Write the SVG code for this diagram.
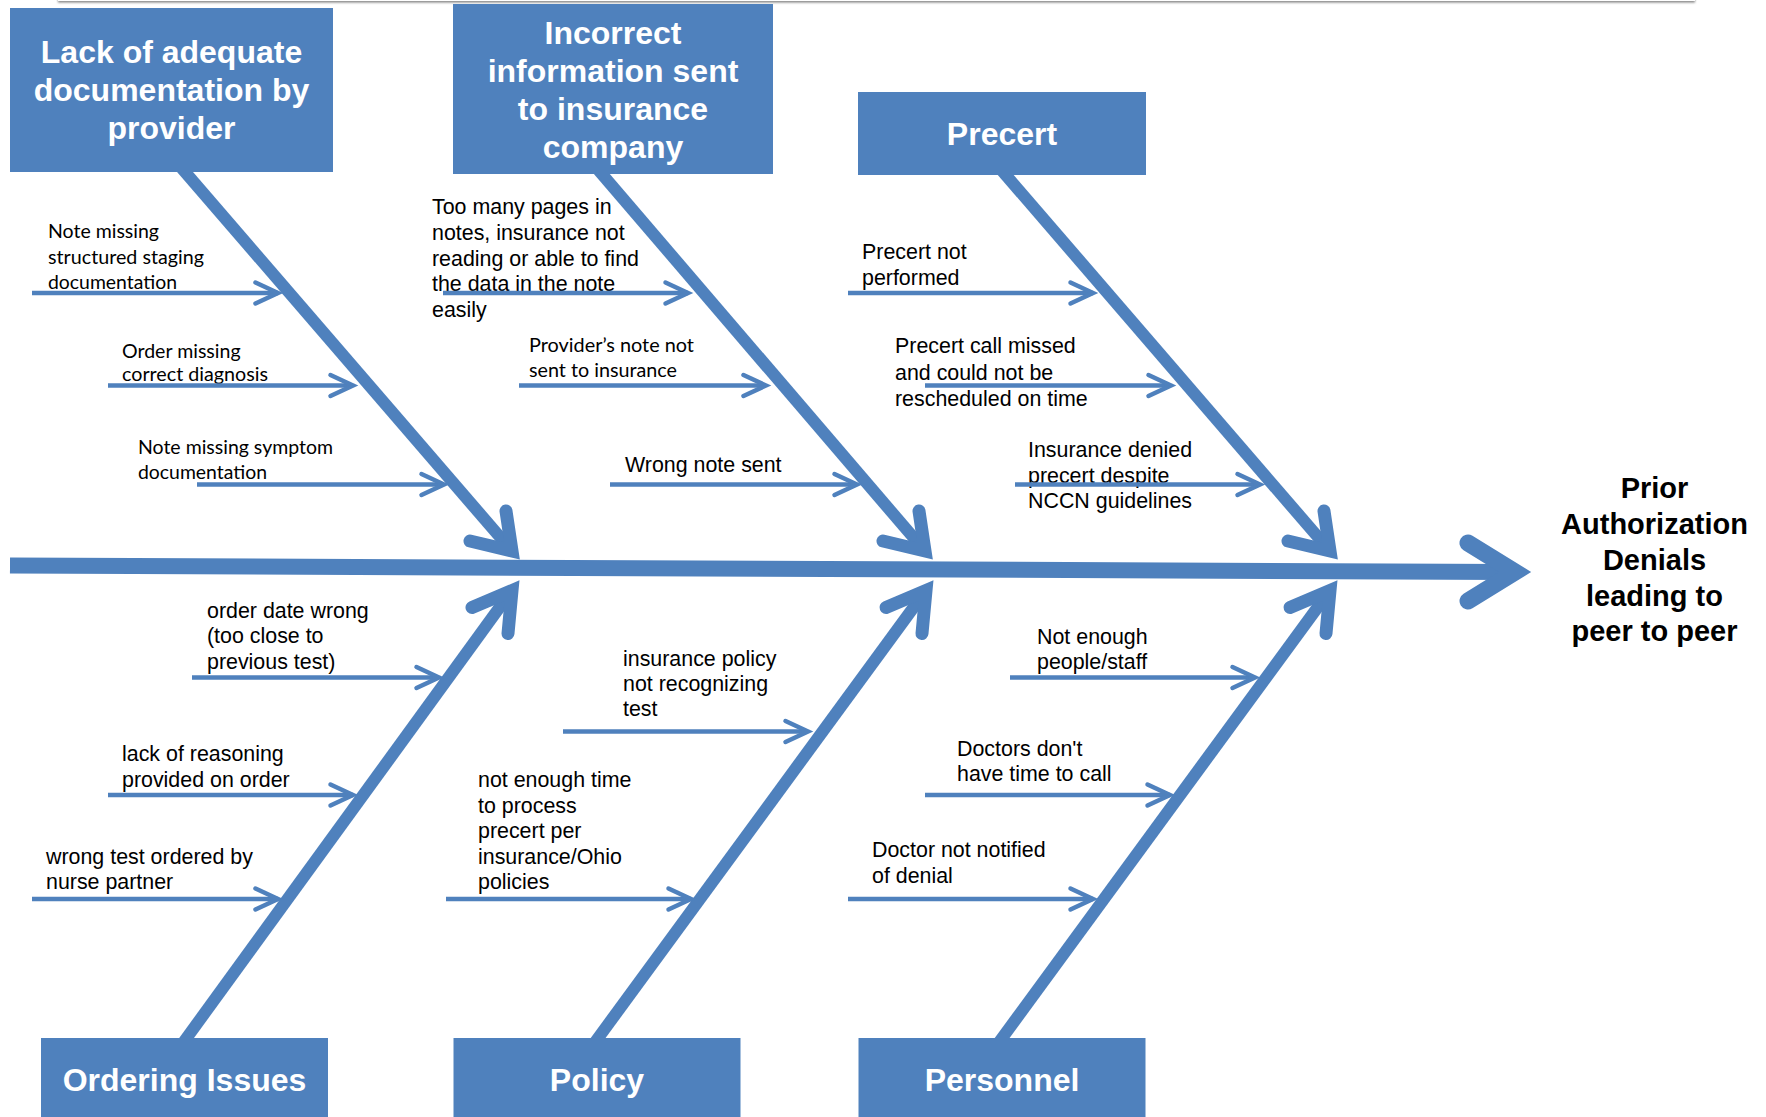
<svg xmlns="http://www.w3.org/2000/svg" width="1766" height="1117" viewBox="0 0 1766 1117">
<defs>
<style>
.box{fill:#4F81BD;}
.bt{font-family:"Liberation Sans",Arial,sans-serif;font-weight:bold;font-size:32px;fill:#fff;text-anchor:middle;}
.eff{font-family:"Liberation Sans",Arial,sans-serif;font-weight:bold;font-size:29px;fill:#000;text-anchor:middle;}
.a{font-family:"Liberation Sans",Arial,sans-serif;font-size:21.4px;fill:#000;}
.c{font-family:Lato,"Open Sans",sans-serif;font-size:19.5px;fill:#000;}
.bone{stroke:#4F81BD;stroke-width:12;fill:none;stroke-linecap:butt;}
.head{stroke:#4F81BD;stroke-width:13;fill:none;stroke-linecap:round;stroke-linejoin:miter;stroke-miterlimit:10;}
.br{stroke:#4F81BD;stroke-width:4.5;fill:none;marker-end:url(#chev);}
</style>
<marker id="chev" markerUnits="userSpaceOnUse" viewBox="-30 -15 35 30" refX="0" refY="0" markerWidth="35" markerHeight="30" orient="auto" overflow="visible">
<path d="M-22.5,-10.5 L0,0 L-22.5,10.5" fill="none" stroke="#4F81BD" stroke-width="4.5" stroke-linecap="round" stroke-linejoin="miter" stroke-miterlimit="10"/>
</marker>
<filter id="sh" x="-5%" y="-100%" width="110%" height="400%">
<feDropShadow dx="0" dy="1.5" stdDeviation="1.3" flood-color="#777" flood-opacity="0.9"/>
</filter>
</defs>
<rect x="58" y="-20" width="1637" height="21" fill="#fff" filter="url(#sh)"/>

<g id="labels">
<text class="c" x="48" y="238" textLength="111" lengthAdjust="spacingAndGlyphs">Note missing</text>
<text class="c" x="48" y="264" textLength="156" lengthAdjust="spacingAndGlyphs">structured staging</text>
<text class="c" x="48" y="289" textLength="129" lengthAdjust="spacingAndGlyphs">documentation</text>
<text class="c" x="122" y="358" textLength="118.6" lengthAdjust="spacingAndGlyphs">Order missing</text>
<text class="c" x="122" y="381" textLength="146" lengthAdjust="spacingAndGlyphs">correct diagnosis</text>
<text class="c" x="138" y="454" textLength="195" lengthAdjust="spacingAndGlyphs">Note missing symptom</text>
<text class="c" x="138" y="479" textLength="129" lengthAdjust="spacingAndGlyphs">documentation</text>

<text class="a" x="432" y="214">Too many pages in</text>
<text class="a" x="432" y="240">notes, insurance not</text>
<text class="a" x="432" y="266">reading or able to find</text>
<text class="a" x="432" y="291">the data in the note</text>
<text class="a" x="432" y="317">easily</text>
<text class="c" x="529" y="352" textLength="165" lengthAdjust="spacingAndGlyphs">Provider’s note not</text>
<text class="c" x="529" y="377" textLength="148" lengthAdjust="spacingAndGlyphs">sent to insurance</text>
<text class="a" x="625" y="472">Wrong note sent</text>

<text class="a" x="862" y="259">Precert not</text>
<text class="a" x="862" y="285">performed</text>
<text class="a" x="895" y="353">Precert call missed</text>
<text class="a" x="895" y="380">and could not be</text>
<text class="a" x="895" y="406">rescheduled on time</text>
<text class="a" x="1028" y="457">Insurance denied</text>
<text class="a" x="1028" y="483">precert despite</text>
<text class="a" x="1028" y="508">NCCN guidelines</text>

<text class="a" x="207" y="618">order date wrong</text>
<text class="a" x="207" y="643">(too close to</text>
<text class="a" x="207" y="669">previous test)</text>
<text class="a" x="122" y="761">lack of reasoning</text>
<text class="a" x="122" y="787">provided on order</text>
<text class="a" x="46" y="864">wrong test ordered by</text>
<text class="a" x="46" y="889">nurse partner</text>

<text class="a" x="623" y="666">insurance policy</text>
<text class="a" x="623" y="691">not recognizing</text>
<text class="a" x="623" y="716">test</text>
<text class="a" x="478" y="787">not enough time</text>
<text class="a" x="478" y="813">to process</text>
<text class="a" x="478" y="838">precert per</text>
<text class="a" x="478" y="864">insurance/Ohio</text>
<text class="a" x="478" y="889">policies</text>

<text class="a" x="1037" y="644">Not enough</text>
<text class="a" x="1037" y="669">people/staff</text>
<text class="a" x="957" y="756">Doctors don't</text>
<text class="a" x="957" y="781">have time to call</text>
<text class="a" x="872" y="857">Doctor not notified</text>
<text class="a" x="872" y="883">of denial</text>
</g>

<g id="connectors">
<line x1="10" y1="565.5" x2="1508" y2="572" stroke="#4F81BD" stroke-width="16"/>
<polyline class="head" points="1468,543 1515,572 1468,601" style="stroke-width:17"/>

<line class="bone" x1="179" y1="165" x2="505.5" y2="543.4"/>
<polyline class="head" points="506,511 512,551 470,541"/>
<line class="bone" x1="595" y1="166" x2="918.5" y2="543.4"/>
<polyline class="head" points="919,511 925,551 883,541"/>
<line class="bone" x1="998" y1="166" x2="1323.5" y2="543.4"/>
<polyline class="head" points="1324,511 1330,551 1288,541"/>

<line class="bone" x1="181.5" y1="1045" x2="506" y2="598.6"/>
<polyline class="head" points="472,607.5 512,590.5 508,633.5"/>
<line class="bone" x1="593" y1="1045" x2="920" y2="598.6"/>
<polyline class="head" points="886,607.5 926,590.5 922,633.5"/>
<line class="bone" x1="997" y1="1045" x2="1324" y2="598.6"/>
<polyline class="head" points="1290,607.5 1330,590.5 1326,633.5"/>

<line class="br" x1="32" y1="293" x2="278" y2="293"/>
<line class="br" x1="108" y1="385.5" x2="353" y2="385.5"/>
<line class="br" x1="197" y1="484.5" x2="444" y2="484.5"/>
<line class="br" x1="443" y1="293" x2="688" y2="293"/>
<line class="br" x1="519" y1="385.5" x2="766" y2="385.5"/>
<line class="br" x1="610" y1="484.5" x2="857" y2="484.5"/>
<line class="br" x1="848" y1="293" x2="1093" y2="293"/>
<line class="br" x1="925" y1="385.5" x2="1171" y2="385.5"/>
<line class="br" x1="1015" y1="484.5" x2="1260" y2="484.5"/>

<line class="br" x1="192" y1="677.5" x2="439" y2="677.5"/>
<line class="br" x1="108" y1="795" x2="353" y2="795"/>
<line class="br" x1="32" y1="899" x2="278" y2="899"/>
<line class="br" x1="563" y1="731.5" x2="808" y2="731.5"/>
<line class="br" x1="446" y1="899" x2="691" y2="899"/>
<line class="br" x1="1010" y1="677.5" x2="1255" y2="677.5"/>
<line class="br" x1="925" y1="795" x2="1170" y2="795"/>
<line class="br" x1="848" y1="899" x2="1093" y2="899"/>
</g>

<g id="node-documentation">
<rect class="box" x="10" y="8" width="323" height="164"/>
<text class="bt" x="171.5" y="63">Lack of adequate</text>
<text class="bt" x="171.5" y="101">documentation by</text>
<text class="bt" x="171.5" y="139">provider</text>
</g>
<g id="node-incorrect-info">
<rect class="box" x="453" y="4" width="320" height="170"/>
<text class="bt" x="613" y="44">Incorrect</text>
<text class="bt" x="613" y="82">information sent</text>
<text class="bt" x="613" y="120">to insurance</text>
<text class="bt" x="613" y="158">company</text>
</g>
<g id="node-precert">
<rect class="box" x="858" y="92" width="288" height="83"/>
<text class="bt" x="1002" y="145">Precert</text>
</g>
<g id="node-ordering">
<rect class="box" x="41" y="1038" width="287" height="79"/>
<text class="bt" x="184.5" y="1091">Ordering Issues</text>
</g>
<g id="node-policy">
<rect class="box" x="453.5" y="1038" width="287" height="79"/>
<text class="bt" x="597" y="1091">Policy</text>
</g>
<g id="node-personnel">
<rect class="box" x="858.5" y="1038" width="287" height="79"/>
<text class="bt" x="1002" y="1091">Personnel</text>
</g>
<g id="node-effect">
<text class="eff" x="1654.5" y="498">Prior</text>
<text class="eff" x="1654.5" y="534">Authorization</text>
<text class="eff" x="1654.5" y="570">Denials</text>
<text class="eff" x="1654.5" y="606">leading to</text>
<text class="eff" x="1654.5" y="641">peer to peer</text>
</g>
</svg>
